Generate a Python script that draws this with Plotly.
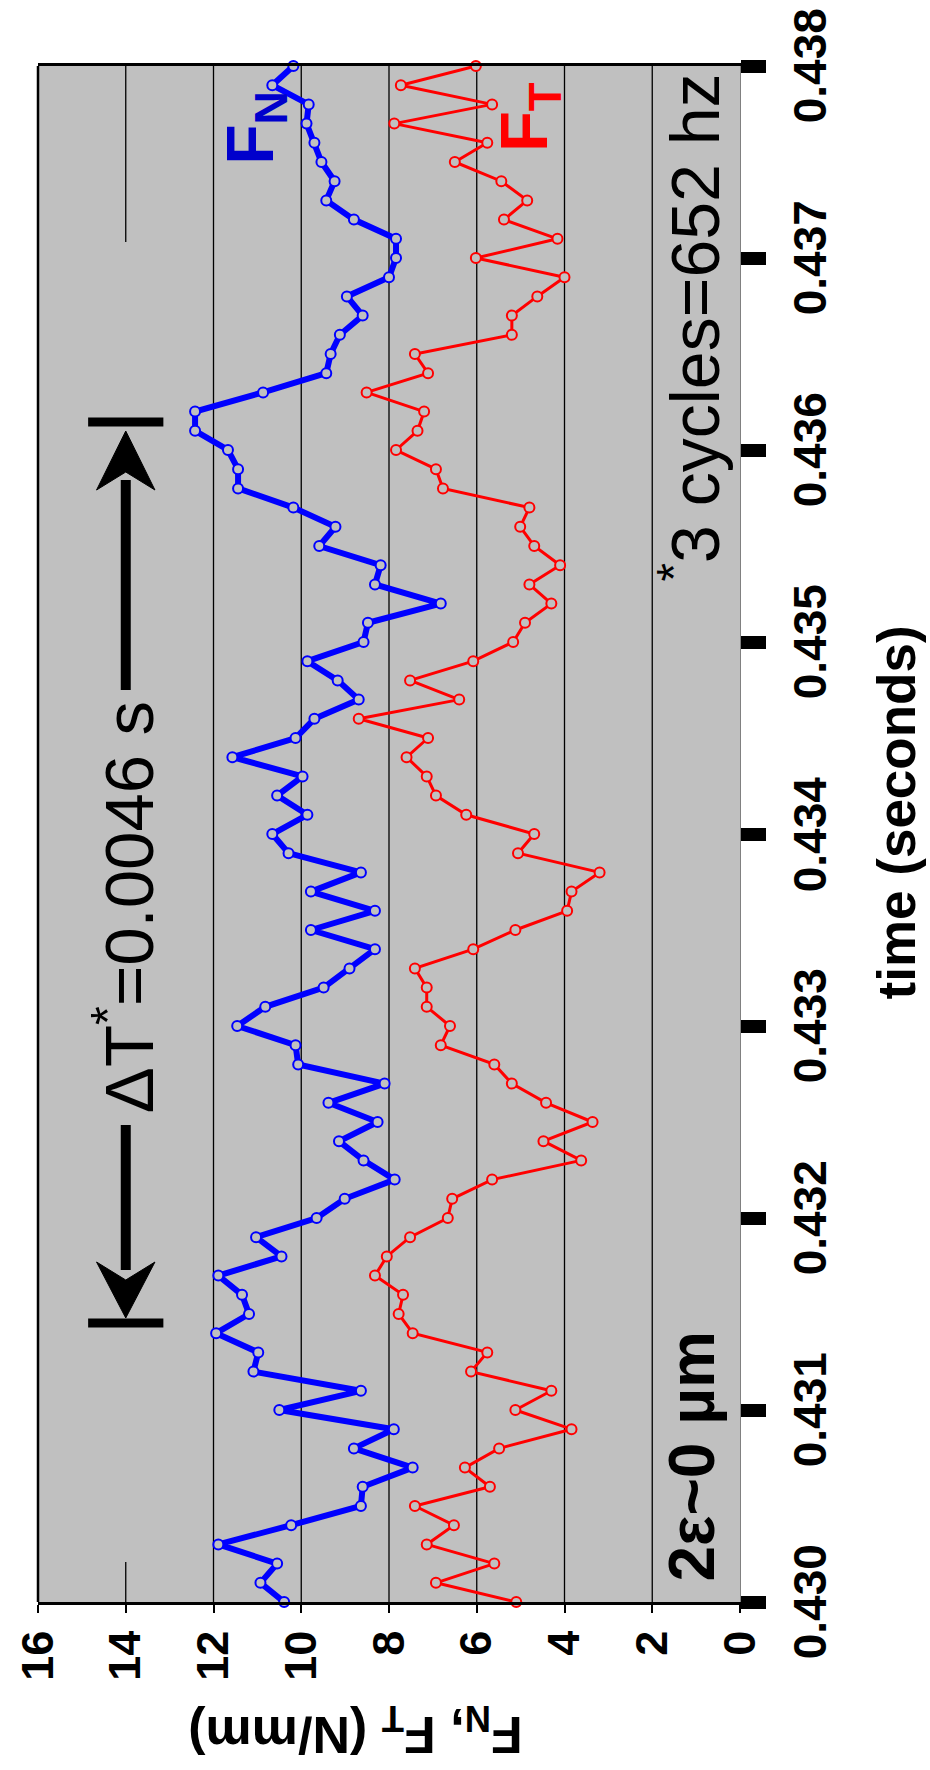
import plotly.graph_objects as go

# ---------------- data ----------------
time_s = [
    0.4300, 0.4301, 0.4302, 0.4303, 0.4304, 0.4305, 0.4306, 0.4307, 0.4308, 0.4309,
    0.4310, 0.4311, 0.4312, 0.4313, 0.4314, 0.4315, 0.4316, 0.4317, 0.4318, 0.4319,
    0.4320, 0.4321, 0.4322, 0.4323, 0.4324, 0.4325, 0.4326, 0.4327, 0.4328, 0.4329,
    0.4330, 0.4331, 0.4332, 0.4333, 0.4334, 0.4335, 0.4336, 0.4337, 0.4338, 0.4339,
    0.4340, 0.4341, 0.4342, 0.4343, 0.4344, 0.4345, 0.4346, 0.4347, 0.4348, 0.4349,
    0.4350, 0.4351, 0.4352, 0.4353, 0.4354, 0.4355, 0.4356, 0.4357, 0.4358, 0.4359,
    0.4360, 0.4361, 0.4362, 0.4363, 0.4364, 0.4365, 0.4366, 0.4367, 0.4368, 0.4369,
    0.4370, 0.4371, 0.4372, 0.4373, 0.4374, 0.4375, 0.4376, 0.4377, 0.4378, 0.4379,
    0.4380,
]

fn_values = [
    10.39, 10.93, 10.55, 11.89, 10.23, 8.64, 8.60, 7.46, 8.80, 7.89,
    10.50, 8.64, 11.09, 10.98, 11.94, 11.19, 11.35, 11.89, 10.45, 11.03,
    9.65, 9.01, 7.87, 8.58, 9.14, 8.26, 9.38, 8.10, 10.07, 10.13,
    11.46, 10.82, 9.49, 8.90, 8.32, 9.78, 8.32, 9.78, 8.64, 10.29,
    10.66, 9.86, 10.55, 9.97, 11.57, 10.13, 9.70, 8.69, 9.17, 9.86,
    8.58, 8.48, 6.82, 8.32, 8.19, 9.59, 9.22, 10.18, 11.44, 11.44,
    11.67, 12.42, 12.42, 10.87, 9.43, 9.33, 9.12, 8.60, 8.96, 8.00,
    7.84, 7.84, 8.80, 9.43, 9.24, 9.54, 9.70, 9.88, 9.83, 10.66,
    10.18,
]

ft_values = [
    5.10, 6.93, 5.60, 7.14, 6.52, 7.41, 5.70, 6.27, 5.49, 3.84,
    5.12, 4.30, 6.13, 5.76, 7.46, 7.78, 7.68, 8.32, 8.05, 7.52,
    6.66, 6.56, 5.65, 3.62, 4.48, 3.36, 4.42, 5.20, 5.60, 6.82,
    6.61, 7.14, 7.14, 7.41, 6.08, 5.12, 3.94, 3.84, 3.20, 5.06,
    4.69, 6.24, 6.93, 7.14, 7.60, 7.11, 8.69, 6.40, 7.52, 6.08,
    5.17, 4.90, 4.30, 4.80, 4.10, 4.69, 5.01, 4.80, 6.77, 6.93,
    7.84, 7.35, 7.20, 8.51, 7.11, 7.41, 5.20, 5.20, 4.62, 4.00,
    6.02, 4.16, 5.38, 4.85, 5.44, 6.50, 5.76, 7.88, 5.65, 7.73,
    6.02,
]

force_ticks = [0, 2, 4, 6, 8, 10, 12, 14, 16]
force_tick_labels = ["0", "2", "4", "6", "8", "10", "12", "14", "16"]
time_ticks = [0.430, 0.431, 0.432, 0.433, 0.434, 0.435, 0.436, 0.437, 0.438]
time_tick_labels = ["0.430", "0.431", "0.432", "0.433", "0.434",
                    "0.435", "0.436", "0.437", "0.438"]

# ---------------- styling ----------------
FONT = "Liberation Sans, Arial, sans-serif"
NARROW = "Liberation Sans Narrow, Arial Narrow, Liberation Sans, Arial, sans-serif"
GREY = "#c0c0c0"
BLUE = "#0000ff"
RED = "#ff0000"

W, H = 930, 1770
X_LEFT, X_RIGHT = 31, 740      # plot area, pixels
Y_TOP, Y_BOT = 66, 1602

F_MIN, F_MAX = force_ticks[0], force_ticks[-1]
T_MIN, T_MAX = time_ticks[0], time_ticks[-1]


def fx(px):
    """pixel x -> force value (axis reversed: 16 at left)."""
    return F_MAX - (px - X_LEFT) / (X_RIGHT - X_LEFT) * (F_MAX - F_MIN)


def ty(py):
    """pixel y -> time value."""
    return T_MIN + (Y_BOT - py) / (Y_BOT - Y_TOP) * (T_MAX - T_MIN)


def px_to_paper_x(px):
    return (px - X_LEFT) / (X_RIGHT - X_LEFT)


def px_to_paper_y(py):
    return (Y_BOT - py) / (Y_BOT - Y_TOP)


fig = go.Figure()

fig.add_trace(go.Scatter(
    x=fn_values, y=time_s, mode="lines+markers", name="F_N",
    line=dict(color=BLUE, width=6),
    marker=dict(symbol="circle", size=10, color=GREY,
                line=dict(color=BLUE, width=2)),
    cliponaxis=False, showlegend=False, hoverinfo="skip",
))
fig.add_trace(go.Scatter(
    x=ft_values, y=time_s, mode="lines+markers", name="F_T",
    line=dict(color=RED, width=3),
    marker=dict(symbol="circle", size=10, color=GREY,
                line=dict(color=RED, width=2)),
    cliponaxis=False, showlegend=False, hoverinfo="skip",
))

shapes = []
# grid lines (vertical, at interior force ticks)
for v in force_ticks[1:-1]:
    shapes.append(dict(type="line", xref="x", yref="y", x0=v, x1=v,
                       y0=T_MIN, y1=T_MAX, layer="below",
                       line=dict(color="black", width=1.3)))
# grey box hiding the 14 gridline behind the ΔT annotation
arrow_x = force_ticks[-2]
shapes.append(dict(type="rect", xref="x", yref="y",
                   x0=arrow_x - 0.5, x1=arrow_x + 0.5,
                   y0=ty(1562), y1=ty(242), layer="below",
                   fillcolor=GREY, line=dict(width=0)))
# left border
shapes.append(dict(type="line", xref="paper", yref="paper", x0=0, x1=0,
                   y0=0, y1=1, line=dict(color="black", width=2.5)))

# ΔT arrow decorations
bar_half = 38 / (X_RIGHT - X_LEFT) * (F_MAX - F_MIN)
head_half = 29.5 / (X_RIGHT - X_LEFT) * (F_MAX - F_MIN)
for bar_y, tip_y, base_y, notch_y, sh0, sh1 in [
        (422, 431, 490, 472, 480, 690),
        (1323, 1318, 1262, 1280, 1125, 1270)]:
    shapes.append(dict(type="line", xref="x", yref="y",
                       x0=arrow_x - bar_half, x1=arrow_x + bar_half,
                       y0=ty(bar_y), y1=ty(bar_y),
                       line=dict(color="black", width=9)))
    shapes.append(dict(type="line", xref="x", yref="y",
                       x0=arrow_x, x1=arrow_x, y0=ty(sh0), y1=ty(sh1),
                       line=dict(color="black", width=10)))
    path = ("M {:.6f},{:.8f} L {:.6f},{:.8f} L {:.6f},{:.8f} "
            "L {:.6f},{:.8f} Z").format(
        arrow_x, ty(tip_y),
        arrow_x - head_half, ty(base_y),
        arrow_x, ty(notch_y),
        arrow_x + head_half, ty(base_y))
    shapes.append(dict(type="path", xref="x", yref="y", path=path,
                       fillcolor="black", line=dict(color="black", width=1)))

annotations = [
    dict(text="<b>F<sub>N</sub></b>", x=fx(250), y=ty(128), xref="x", yref="y",
         showarrow=False, textangle=-90,
         font=dict(family=FONT, size=66, color="#0000cc")),
    dict(text="<b>F<sub>T</sub></b>", x=fx(526), y=ty(117), xref="x", yref="y",
         showarrow=False, textangle=-90,
         font=dict(family=FONT, size=67, color=RED)),
    dict(text="<sup>*</sup>3 cycles=652 hz", x=fx(690), y=ty(327), xref="x",
         yref="y", showarrow=False, textangle=-90,
         font=dict(family=FONT, size=68, color="black")),
    dict(text="ΔT<sup>*</sup>=0.0046 s", x=fx(118), y=ty(907), xref="x",
         yref="y", showarrow=False, textangle=-90,
         font=dict(family=FONT, size=69, color="black")),
    dict(text="<b>2ε~0 µm</b>", x=fx(692), y=ty(1456), xref="x", yref="y",
         showarrow=False, textangle=-90,
         font=dict(family=FONT, size=64, color="black")),
    dict(text="<b>F<sub>N</sub>, F<sub>T</sub> (N/mm)</b>",
         x=px_to_paper_x(351), y=px_to_paper_y(1731), xref="paper",
         yref="paper", showarrow=False, textangle=180,
         xanchor="center", yanchor="middle",
         font=dict(family=FONT, size=52, color="black")),
    dict(text="<b>time (seconds)</b>",
         x=px_to_paper_x(898), y=px_to_paper_y(812), xref="paper",
         yref="paper", showarrow=False, textangle=-90,
         xanchor="center", yanchor="middle",
         font=dict(family=FONT, size=53, color="black")),
]

# time tick labels: rotated, centred on each tick
for tv, tl in zip(time_ticks, time_tick_labels):
    annotations.append(dict(
        text="<b>" + tl + "</b>", x=px_to_paper_x(811), y=tv,
        xref="paper", yref="y", showarrow=False, textangle=-90,
        xanchor="center", yanchor="middle",
        font=dict(family=NARROW, size=46, color="black")))

fig.update_layout(
    width=W, height=H,
    margin=dict(l=X_LEFT, r=W - X_RIGHT, t=Y_TOP, b=H - Y_BOT, pad=0),
    paper_bgcolor="white", plot_bgcolor=GREY,
    showlegend=False, shapes=shapes, annotations=annotations,
    font=dict(family=FONT, color="black"),
)
fig.update_xaxes(
    range=[F_MAX, F_MIN], tickmode="array", tickvals=force_ticks,
    ticktext=force_tick_labels, tickangle=-90,
    ticks="outside", ticklen=8, tickwidth=1.5, tickcolor="black",
    showgrid=False, zeroline=False,
    showline=True, linecolor="black", linewidth=2.5, mirror=True,
    ticklabeloverflow="allow",
    tickfont=dict(family=FONT, size=45, color="black", weight="bold"),
)
fig.update_yaxes(
    range=[T_MIN, T_MAX], side="right", tickmode="array", tickvals=time_ticks,
    ticktext=time_tick_labels, showticklabels=False,
    ticks="outside", ticklen=25, tickwidth=13, tickcolor="black",
    showgrid=False, zeroline=False,
    showline=True, linecolor="#808080", linewidth=1,
)

fig.write_html("out.html")
